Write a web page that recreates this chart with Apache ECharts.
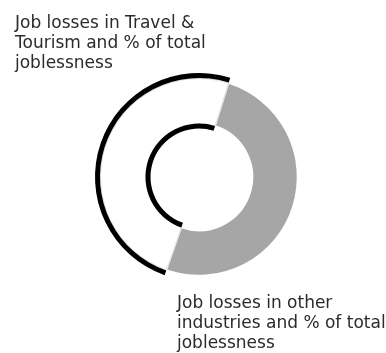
<!DOCTYPE html>
<html>
<head>
<meta charset="utf-8">
<script src="https://cdn.jsdelivr.net/npm/echarts@6/dist/echarts.min.js"></script>
<style>
html,body{margin:0;padding:0;background:#fff;}
#c{width:386px;height:353px;}
</style>
</head>
<body>
<div id="c"></div>
<script>
// Data
const categories = ['Job losses in other industries and % of total joblessness', 'Job losses in Travel & Tourism and % of total joblessness'];
const shares = [50.5, 49.5];
const labelTexts = ['Job losses in Travel &\nTourism and % of total\njoblessness', 'Job losses in other\nindustries and % of total\njoblessness'];

const chart = echarts.init(document.getElementById('c'), null, {renderer: 'canvas'});
const center = [199, 177];
const start = 72.5;

function ringData(colors, border) {
  return categories.map((n, i) => ({
    name: n,
    value: shares[i],
    itemStyle: Object.assign({color: colors[i]}, border ? border[i] : {})
  }));
}

const common = {
  type: 'pie', center: center, startAngle: start, clockwise: true,
  label: {show: false}, labelLine: {show: false}, silent: true, animation: false,
  emphasis: {disabled: true}
};

chart.setOption({
  animation: false,
  series: [
    Object.assign({}, common, {
      radius: [53.5, 98.5],
      data: ringData(['#a6a6a6', '#ffffff'], [
        {borderColor: '#ffffff', borderWidth: 1.5},
        {borderColor: '#c8c8c8', borderWidth: 0.6}
      ])
    }),
    Object.assign({}, common, {
      radius: [99, 104],
      data: ringData(['rgba(0,0,0,0)', '#000000'])
    }),
    Object.assign({}, common, {
      radius: [48.5, 53.5],
      data: ringData(['rgba(0,0,0,0)', '#000000'])
    })
  ],
  graphic: [
    {type: 'text', left: 15, top: 14, style: {text: labelTexts[0], font: '17px "DejaVu Sans"', lineHeight: 20, fill: '#2b2b2b'}},
    {type: 'text', left: 177, top: 294, style: {text: labelTexts[1], font: '17px "DejaVu Sans"', lineHeight: 20, fill: '#2b2b2b'}}
  ]
});
</script>
</body>
</html>
